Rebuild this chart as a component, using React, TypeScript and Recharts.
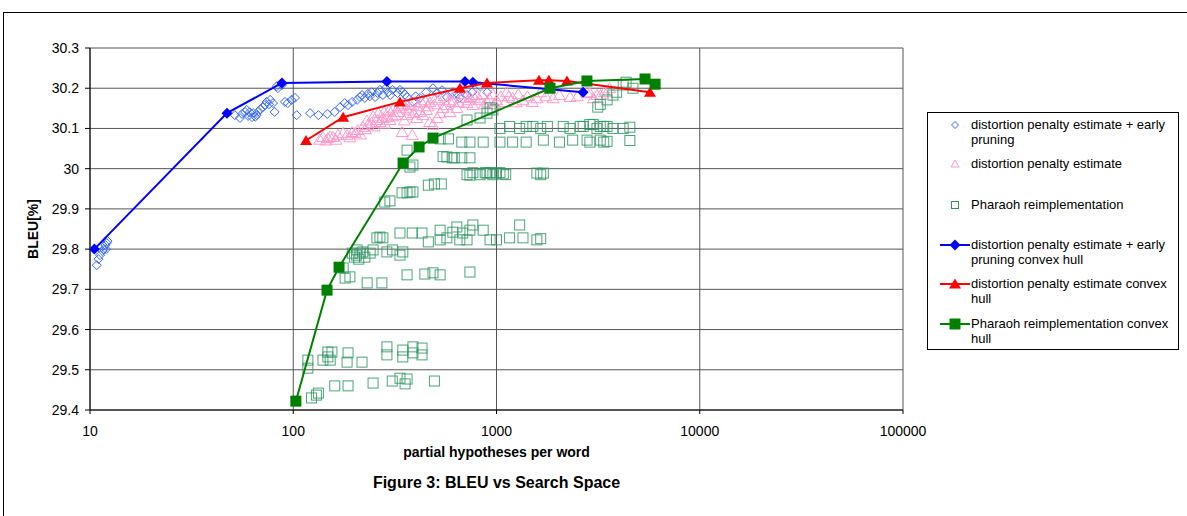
import React from "react";
import { ScatterChart, Scatter, XAxis, YAxis, CartesianGrid } from "recharts";

// hypotheses per word (x) / BLEU (y)
const xTicks = [10, 100, 1000, 10000, 100000];
const yTicks = [29.4, 29.5, 29.6, 29.7, 29.8, 29.9, 30, 30.1, 30.2, 30.3];

const earlyPruningPoints = [
  [10.8, 29.76], [11.0, 29.775], [11.2, 29.785], [11.5, 29.795], [11.7, 29.8], [11.9, 29.81],
  [12.1, 29.815], [12.2, 29.82], [11.4, 29.805], [12.0, 29.8],
  [51.6, 30.133], [54.7, 30.126], [58, 30.141], [60, 30.131], [62.7, 30.128], [59, 30.146],
  [63.5, 30.138], [66, 30.133], [67, 30.141], [71, 30.153], [74, 30.166], [77, 30.171],
  [72.5, 30.158], [79.5, 30.163], [81, 30.141], [84, 30.2], [88, 30.208], [91, 30.166],
  [94, 30.163], [98, 30.171], [102, 30.176], [104, 30.133], [121, 30.138], [133, 30.133],
  [147, 30.136], [160, 30.141], [170, 30.153], [179, 30.163], [186, 30.158], [195, 30.166],
  [206, 30.171], [213, 30.178], [225, 30.176], [233, 30.186], [243, 30.19], [253, 30.178],
  [267, 30.196], [276, 30.183], [293, 30.19], [308, 30.196], [326, 30.188], [346, 30.19],
  [363, 30.178], [388, 30.166], [420, 30.176], [487, 30.2], [510, 30.188], [570, 30.178],
  [610, 30.19], [660, 30.176], [716, 30.183], [830, 30.205], [900, 30.19],
  [56, 30.136], [61, 30.14], [65, 30.129], [69, 30.148], [76, 30.16], [83, 30.205],
  [218, 30.183], [238, 30.18], [260, 30.188], [285, 30.2], [300, 30.183], [335, 30.196],
  [355, 30.184], [400, 30.18], [450, 30.19], [540, 30.195], [640, 30.186], [760, 30.19],
];

const penaltyPoints = [
  [135, 30.072], [140, 30.079], [145, 30.07], [148, 30.076], [152, 30.08], [157, 30.079],
  [162, 30.072], [166, 30.084], [176, 30.089], [184, 30.084], [190, 30.078], [195, 30.091],
  [202, 30.089], [208, 30.096], [214, 30.085], [220, 30.104], [226, 30.098], [233, 30.109],
  [243, 30.114], [250, 30.105], [258, 30.121], [267, 30.116], [276, 30.126], [282, 30.112],
  [289, 30.128], [299, 30.121], [308, 30.13], [317, 30.133], [327, 30.141], [343, 30.091],
  [352, 30.12], [363, 30.133], [370, 30.145], [385, 30.084], [390, 30.138], [405, 30.126],
  [420, 30.141], [434, 30.133], [452, 30.146], [460, 30.155], [469, 30.116], [487, 30.109],
  [495, 30.16], [510, 30.126], [528, 30.138], [546, 30.151], [570, 30.158], [590, 30.141],
  [610, 30.166], [638, 30.151], [675, 30.176], [716, 30.163], [740, 30.178], [765, 30.158],
  [800, 30.183], [830, 30.17], [870, 30.16], [920, 30.175], [960, 30.185], [1000, 30.17],
  [1050, 30.18], [1100, 30.165], [1150, 30.18], [1200, 30.176], [1280, 30.185], [1350, 30.17],
  [1420, 30.18], [1500, 30.166], [1580, 30.175], [2040, 30.183], [2300, 30.178], [2790, 30.19],
  [2880, 30.188], [3120, 30.183], [3250, 30.183], [3600, 30.2],
  [230, 30.12], [247, 30.13], [262, 30.138], [280, 30.142], [296, 30.145], [312, 30.15],
  [330, 30.155], [345, 30.16], [360, 30.15], [378, 30.158], [395, 30.165], [412, 30.155],
  [428, 30.165], [445, 30.17], [470, 30.165], [500, 30.175], [520, 30.17], [555, 30.18],
  [585, 30.17], [620, 30.185], [650, 30.165], [690, 30.185], [725, 30.17], [780, 30.175],
  [850, 30.185], [900, 30.165], [980, 30.16], [1120, 30.19], [1250, 30.165], [1650, 30.19],
  [1750, 30.18], [1900, 30.175], [2500, 30.18], [3400, 30.19], [3000, 30.175],
];

const pharaohPoints = [
  [118, 29.524], [118, 29.504], [123, 29.43], [130, 29.437], [133, 29.442], [140, 29.524],
  [148, 29.544], [155, 29.544], [152, 29.524], [148, 29.532], [160, 29.46], [186, 29.46],
  [186, 29.542], [184, 29.519], [218, 29.519], [247, 29.467], [289, 29.557], [289, 29.537],
  [307, 29.472], [335, 29.479], [346, 29.549], [346, 29.532], [355, 29.465], [363, 29.477],
  [388, 29.557], [388, 29.542], [430, 29.554], [430, 29.537], [495, 29.472],
  [176, 29.753], [180, 29.728], [190, 29.731], [231, 29.716], [273, 29.716], [363, 29.736],
  [444, 29.738], [487, 29.741], [528, 29.736], [740, 29.743],
  [195, 29.79], [200, 29.78], [205, 29.785], [210, 29.775], [225, 29.78],
  [206, 29.798], [213, 29.79], [220, 29.793], [239, 29.79], [247, 29.798], [258, 29.828],
  [267, 29.83], [276, 29.828], [289, 29.793], [308, 29.798], [335, 29.785], [335, 29.84],
  [346, 29.793], [385, 29.84], [430, 29.84], [462, 29.818], [528, 29.847], [528, 29.823],
  [570, 29.828], [610, 29.842], [638, 29.855], [660, 29.823], [682, 29.84], [716, 29.823],
  [740, 29.847], [765, 29.86], [860, 29.847], [930, 29.823], [1000, 29.823], [1160, 29.828],
  [1300, 29.86], [1350, 29.828], [1580, 29.823], [1650, 29.826],
  [282, 29.917], [299, 29.92], [343, 29.94], [363, 29.94], [375, 29.942], [388, 29.942],
  [462, 29.959], [495, 29.962], [535, 29.962],
  [375, 30.004], [716, 29.985], [740, 29.984], [765, 29.99], [830, 29.985], [880, 29.99],
  [898, 29.989], [930, 29.99], [960, 29.985], [1000, 29.989], [1040, 29.99], [1080, 29.987],
  [1110, 29.985], [1580, 29.989], [1650, 29.985], [1700, 29.989],
  [363, 30.046], [388, 30.009], [546, 30.03], [570, 30.029], [605, 30.027], [620, 30.027],
  [675, 30.027], [740, 30.027],
  [528, 30.074], [580, 30.074], [675, 30.066], [740, 30.066], [860, 30.066], [1040, 30.066],
  [1200, 30.066], [1400, 30.066], [1700, 30.071], [2040, 30.066], [2370, 30.071], [2790, 30.071],
  [2880, 30.066], [3240, 30.071], [3370, 30.066], [3500, 30.068], [4530, 30.07],
  [1040, 30.1], [1160, 30.105], [1300, 30.1], [1400, 30.105], [1510, 30.105], [1650, 30.1],
  [1780, 30.105], [2130, 30.105], [2300, 30.1], [2580, 30.105], [2670, 30.105], [2880, 30.11],
  [2990, 30.11], [3120, 30.1], [3240, 30.105], [3370, 30.105], [3500, 30.105], [3740, 30.1],
  [4200, 30.1], [4530, 30.103],
  [716, 30.121], [830, 30.126], [898, 30.138], [930, 30.151], [960, 30.146], [3150, 30.153],
  [3240, 30.16], [3500, 30.171], [3740, 30.183], [3900, 30.19], [4200, 30.208], [4340, 30.215],
  [4690, 30.2],
];

const earlyPruningHull = [
  [10.5, 29.8], [47.2, 30.138], [88, 30.213], [289, 30.217], [700, 30.217], [765, 30.215], [2667, 30.19],
];
const penaltyHull = [
  [115.6, 30.07], [176, 30.128], [335, 30.166], [661, 30.2], [898, 30.213], [1618, 30.22],
  [1811, 30.22], [2222, 30.218], [5690, 30.19],
];
const pharaohHull = [
  [103, 29.422], [146.6, 29.698], [168, 29.755], [347, 30.014], [416, 30.054], [487, 30.076],
  [1833, 30.2], [2786, 30.218], [5380, 30.223], [6030, 30.21],
];

const toXY = (pts: number[][]) => pts.map(([x, y]) => ({ x, y }));

const FONT = '"Liberation Sans", Arial, sans-serif';

function OpenDiamond({ cx, cy }: any) {
  return <path d={`M${cx},${cy - 4.5}L${cx + 4.5},${cy}L${cx},${cy + 4.5}L${cx - 4.5},${cy}Z`} fill="none" stroke="#3366FF" strokeWidth={1} />;
}
function OpenTriangle({ cx, cy }: any) {
  return <path d={`M${cx},${cy - 5.5}L${cx + 6},${cy + 4.5}L${cx - 6},${cy + 4.5}Z`} fill="none" stroke="#FF99CC" strokeWidth={1} />;
}
function OpenSquare({ cx, cy }: any) {
  return <rect x={cx - 5} y={cy - 5} width={10} height={10} fill="none" stroke="#2E9463" strokeOpacity={0.85} strokeWidth={1} />;
}
function FilledDiamond({ cx, cy }: any) {
  return <path d={`M${cx},${cy - 5.5}L${cx + 5.5},${cy}L${cx},${cy + 5.5}L${cx - 5.5},${cy}Z`} fill="#0000FF" />;
}
function FilledTriangle({ cx, cy }: any) {
  return <path d={`M${cx},${cy - 5.5}L${cx + 6},${cy + 4.5}L${cx - 6},${cy + 4.5}Z`} fill="#FF0000" />;
}
function FilledSquare({ cx, cy }: any) {
  return <rect x={cx - 5.5} y={cy - 5.5} width={11} height={11} fill="#008000" />;
}

const legendItems = [
  { top: 117, lines: ["distortion penalty estimate + early", "pruning"], kind: "diamond" },
  { top: 156, lines: ["distortion penalty estimate"], kind: "triangle" },
  { top: 197, lines: ["Pharaoh reimplementation"], kind: "square" },
  { top: 237, lines: ["distortion penalty estimate + early", "pruning convex hull"], kind: "blueHull" },
  { top: 276, lines: ["distortion penalty estimate convex", "hull"], kind: "redHull" },
  { top: 316, lines: ["Pharaoh reimplementation convex", "hull"], kind: "greenHull" },
];

function LegendIcon({ kind }: { kind: string }) {
  const c = { cx: 16, cy: 8 };
  let body: React.ReactNode = null;
  if (kind === "diamond") body = <path d="M16,4.5L19.5,8L16,11.5L12.5,8Z" fill="none" stroke="#3366FF" />;
  if (kind === "triangle") body = <path d="M16,4L20,11L12,11Z" fill="none" stroke="#FF99CC" />;
  if (kind === "square") body = <rect x={12.5} y={4.5} width={7} height={7} fill="none" stroke="#2E9463" />;
  if (kind === "blueHull")
    body = (<g><line x1={1} y1={8} x2={31} y2={8} stroke="#0000FF" strokeWidth={2} /><FilledDiamond {...c} /></g>);
  if (kind === "redHull")
    body = (<g><line x1={1} y1={8} x2={31} y2={8} stroke="#FF0000" strokeWidth={2} /><FilledTriangle {...c} /></g>);
  if (kind === "greenHull")
    body = (<g><line x1={1} y1={8} x2={31} y2={8} stroke="#008000" strokeWidth={2} /><FilledSquare {...c} /></g>);
  return <svg width={32} height={16} style={{ position: "absolute", left: 11, top: 0 }}>{body}</svg>;
}

export default function App() {
  return (
    <div style={{ position: "absolute", left: 0, top: 0, width: 1187, height: 516, overflow: "hidden", background: "#fff", fontFamily: FONT }}>
      <div style={{ position: "absolute", left: 3, top: 12, width: 1300, height: 700, borderLeft: "1px solid #000", borderTop: "1px solid #000" }} />
      <ScatterChart width={1187} height={516} margin={{ top: 48, right: 284, bottom: 0, left: 0 }} style={{ position: "absolute", left: 0, top: 0 }}>
        <CartesianGrid stroke="#555" strokeWidth={1} />
        <XAxis
          type="number"
          dataKey="x"
          scale="log"
          domain={[10, 100000]}
          ticks={xTicks}
          allowDataOverflow
          height={106}
          tickSize={4}
          tickMargin={12}
          axisLine={{ stroke: "#000" }}
          tickLine={{ stroke: "#000" }}
          tick={{ fontSize: 14, fill: "#000", fontFamily: FONT }}
          interval={0}
        />
        <YAxis
          type="number"
          dataKey="y"
          domain={[29.4, 30.3]}
          ticks={yTicks}
          allowDataOverflow
          width={90}
          tickSize={5}
          tickMargin={6}
          axisLine={{ stroke: "#000" }}
          tickLine={{ stroke: "#000" }}
          tick={{ fontSize: 14, fill: "#000", fontFamily: FONT }}
          tickFormatter={(v: number) => String(Number(v.toFixed(1)))}
          interval={0}
        />
        <Scatter name="distortion penalty estimate + early pruning" data={toXY(earlyPruningPoints)} shape={OpenDiamond} isAnimationActive={false} />
        <Scatter name="distortion penalty estimate" data={toXY(penaltyPoints)} shape={OpenTriangle} isAnimationActive={false} />
        <Scatter name="Pharaoh reimplementation" data={toXY(pharaohPoints)} shape={OpenSquare} isAnimationActive={false} />
        <Scatter name="distortion penalty estimate + early pruning convex hull" data={toXY(earlyPruningHull)} line={{ stroke: "#0000FF", strokeWidth: 2 }} lineType="joint" shape={FilledDiamond} isAnimationActive={false} />
        <Scatter name="distortion penalty estimate convex hull" data={toXY(penaltyHull)} line={{ stroke: "#FF0000", strokeWidth: 2 }} lineType="joint" shape={FilledTriangle} isAnimationActive={false} />
        <Scatter name="Pharaoh reimplementation convex hull" data={toXY(pharaohHull)} line={{ stroke: "#008000", strokeWidth: 2 }} lineType="joint" shape={FilledSquare} isAnimationActive={false} />
      </ScatterChart>

      <div style={{ position: "absolute", left: 0, width: 66, top: 229, height: 0 }}>
        <div style={{ position: "absolute", left: 33, top: 0, transform: "translate(-50%, -50%) rotate(-90deg)", fontWeight: "bold", fontSize: 14, whiteSpace: "nowrap" }}>BLEU[%]</div>
      </div>
      <div style={{ position: "absolute", left: 90, width: 813, top: 444, textAlign: "center", fontWeight: "bold", fontSize: 14 }}>partial hypotheses per word</div>
      <div style={{ position: "absolute", left: 90, width: 813, top: 474, textAlign: "center", fontWeight: "bold", fontSize: 16 }}>Figure 3: BLEU vs Search Space</div>

      <div style={{ position: "absolute", left: 927, top: 112, width: 252, height: 238, border: "1px solid #000", boxSizing: "border-box" }}>
        {legendItems.map((item) => (
          <div key={item.kind} style={{ position: "absolute", left: 0, top: item.top - 112 - 1, width: 250 }}>
            <LegendIcon kind={item.kind} />
            <div style={{ position: "absolute", left: 43, top: 0, fontSize: 13, lineHeight: "15px", whiteSpace: "nowrap", color: "#000" }}>
              {item.lines.map((l, i) => (<div key={i}>{l}</div>))}
            </div>
          </div>
        ))}
      </div>
    </div>
  );
}
